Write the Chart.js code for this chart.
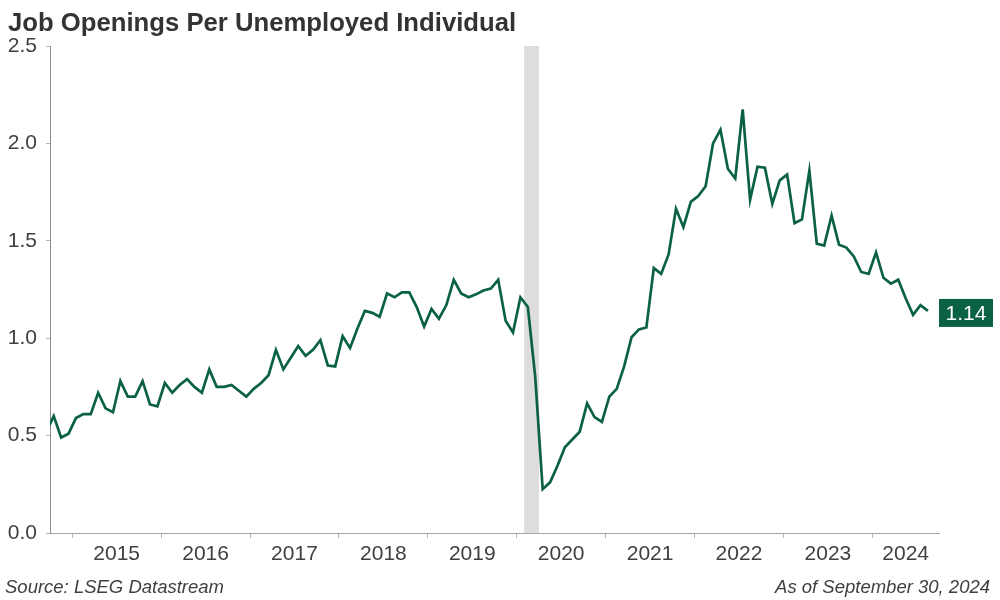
<!DOCTYPE html>
<html>
<head>
<meta charset="utf-8">
<script src="https://cdn.jsdelivr.net/npm/chart.js@4.4.1/dist/chart.umd.min.js"></script>
<style>
  html, body { margin: 0; padding: 0; background: #fff; }
  #wrap { width: 1000px; height: 600px; }
</style>
</head>
<body>
<div id="wrap"><canvas id="chart" width="1000" height="600"></canvas></div>
<script>
const titleText = "Job Openings Per Unemployed Individual";
const sourceText = "Source: LSEG Datastream";
const asOfText = "As of September 30, 2024";

// monthly series, first value is Sep 2014
const firstMonth = [2014, 9];
const ratio = [
  0.52, 0.60, 0.49, 0.51,
  0.59, 0.61, 0.61, 0.72, 0.64, 0.62, 0.78, 0.70, 0.70, 0.78, 0.66, 0.65,
  0.77, 0.72, 0.76, 0.79, 0.75, 0.72, 0.84, 0.75, 0.75, 0.76, 0.73, 0.70,
  0.74, 0.77, 0.81, 0.94, 0.84, 0.90, 0.96, 0.91, 0.94, 0.99, 0.86, 0.855,
  1.01, 0.95, 1.05, 1.14, 1.13, 1.11, 1.23, 1.21, 1.235, 1.235, 1.16, 1.06,
  1.15, 1.10, 1.17, 1.30, 1.23, 1.21, 1.225, 1.245, 1.255, 1.30, 1.09, 1.03,
  1.21, 1.16, 0.80, 0.225, 0.26, 0.345, 0.44, 0.48, 0.52, 0.665, 0.595, 0.57,
  0.70, 0.74, 0.855, 1.005, 1.045, 1.055, 1.36, 1.33, 1.43, 1.665, 1.57, 1.70,
  1.73, 1.78, 2.00, 2.07, 1.87, 1.82, 2.175, 1.71, 1.88, 1.875, 1.69, 1.81,
  1.84, 1.59, 1.61, 1.86, 1.485, 1.475, 1.63, 1.48, 1.465, 1.42, 1.34, 1.33,
  1.44, 1.31, 1.28, 1.30, 1.205, 1.12, 1.17, 1.14
];
const lastLabel = "1.14";

const yearLabels = [2015, 2016, 2017, 2018, 2019, 2020, 2021, 2022, 2023, 2024];
const yTicks = [0, 0.5, 1.0, 1.5, 2.0, 2.5];
const axisStart = [2014, 10];
const axisEnd = [2024, 10];
const recession = [[2020, 2], [2020, 4]];

const green = "#0b6242";
const textColor = "#404040";
const fontFamily = "'Liberation Sans', Arial, sans-serif";

function monthStart(y, m) { return y + (m - 1) / 12; }
function monthMid(y, m) { return y + (m - 0.5) / 12; }

const points = ratio.map((v, i) => {
  const n = firstMonth[1] - 1 + i;
  return { x: monthMid(firstMonth[0] + Math.floor(n / 12), (n % 12) + 1), y: v };
});

const xMin = monthStart(...axisStart);
const xMax = monthStart(...axisEnd);

// tick marks at year starts, labels in the middle of the visible part of each year
function buildXTicks() {
  const t = [];
  yearLabels.forEach(yr => {
    t.push({ value: yr });
    const a = Math.max(yr, xMin), b = Math.min(yr + 1, xMax);
    t.push({ value: (a + b) / 2, label: String(yr) });
  });
  return t;
}

const decor = {
  id: "decor",
  beforeDatasetsDraw(chart) {
    const { ctx, chartArea: a, scales: { x } } = chart;
    const x0 = x.getPixelForValue(monthStart(...recession[0]));
    const x1 = x.getPixelForValue(monthStart(...recession[1]));
    ctx.save();
    ctx.fillStyle = "#dddddd";
    ctx.fillRect(x0, a.top, x1 - x0, a.bottom - a.top);
    ctx.restore();
  },
  afterDraw(chart) {
    const { ctx, chartArea: a, scales: { y } } = chart;
    ctx.save();
    ctx.fillStyle = "#333333";
    ctx.font = "bold 25.7px " + fontFamily;
    ctx.textBaseline = "alphabetic";
    ctx.textAlign = "left";
    ctx.fillText(titleText, 8, 31);

    ctx.fillStyle = textColor;
    ctx.font = "italic 18.5px " + fontFamily;
    ctx.fillText(sourceText, 5, 593);
    ctx.textAlign = "right";
    ctx.fillText(asOfText, 990, 593);

    // last value box
    const yp = y.getPixelForValue(ratio[ratio.length - 1]);
    ctx.fillStyle = green;
    ctx.fillRect(a.right, yp - 12, 54, 28);
    ctx.fillStyle = "#ffffff";
    ctx.font = "21px " + fontFamily;
    ctx.textAlign = "center";
    ctx.textBaseline = "middle";
    ctx.fillText(lastLabel, a.right + 27, yp + 3);
    ctx.restore();
  }
};

new Chart(document.getElementById("chart"), {
  type: "line",
  data: {
    datasets: [{
      data: points,
      borderColor: green,
      borderWidth: 2.7,
      pointRadius: 0,
      tension: 0,
      clip: 0
    }]
  },
  options: {
    responsive: false,
    animation: false,
    devicePixelRatio: 1,
    layout: { padding: { top: 46, right: 61, left: 0, bottom: 0 } },
    plugins: { legend: { display: false }, tooltip: { enabled: false } },
    scales: {
      x: {
        type: "linear",
        min: xMin,
        max: xMax,
        afterBuildTicks: s => { s.ticks = buildXTicks(); },
        afterFit: s => { s.height = 67; },
        grid: {
          drawOnChartArea: false,
          tickLength: 5,
          tickColor: c => (c.tick && Number.isInteger(c.tick.value)) ? "#b4b4b4" : "rgba(0,0,0,0)"
        },
        border: { color: "#a6a6a6", width: 1 },
        ticks: {
          autoSkip: false,
          maxRotation: 0,
          padding: 4,
          color: textColor,
          font: { family: fontFamily, size: 21 },
          callback: (v, i, ticks) => ticks[i].label || ""
        }
      },
      y: {
        min: 0,
        max: 2.5,
        afterBuildTicks: s => { s.ticks = yTicks.map(v => ({ value: v })); },
        afterFit: s => { s.width = 50; },
        grid: { drawOnChartArea: false, tickLength: 4, tickColor: "#b4b4b4" },
        border: { color: "#8c8c8c", width: 1 },
        ticks: {
          padding: 9,
          color: textColor,
          font: { family: fontFamily, size: 21 },
          callback: v => v.toFixed(1)
        }
      }
    }
  },
  plugins: [decor]
});
</script>
</body>
</html>
